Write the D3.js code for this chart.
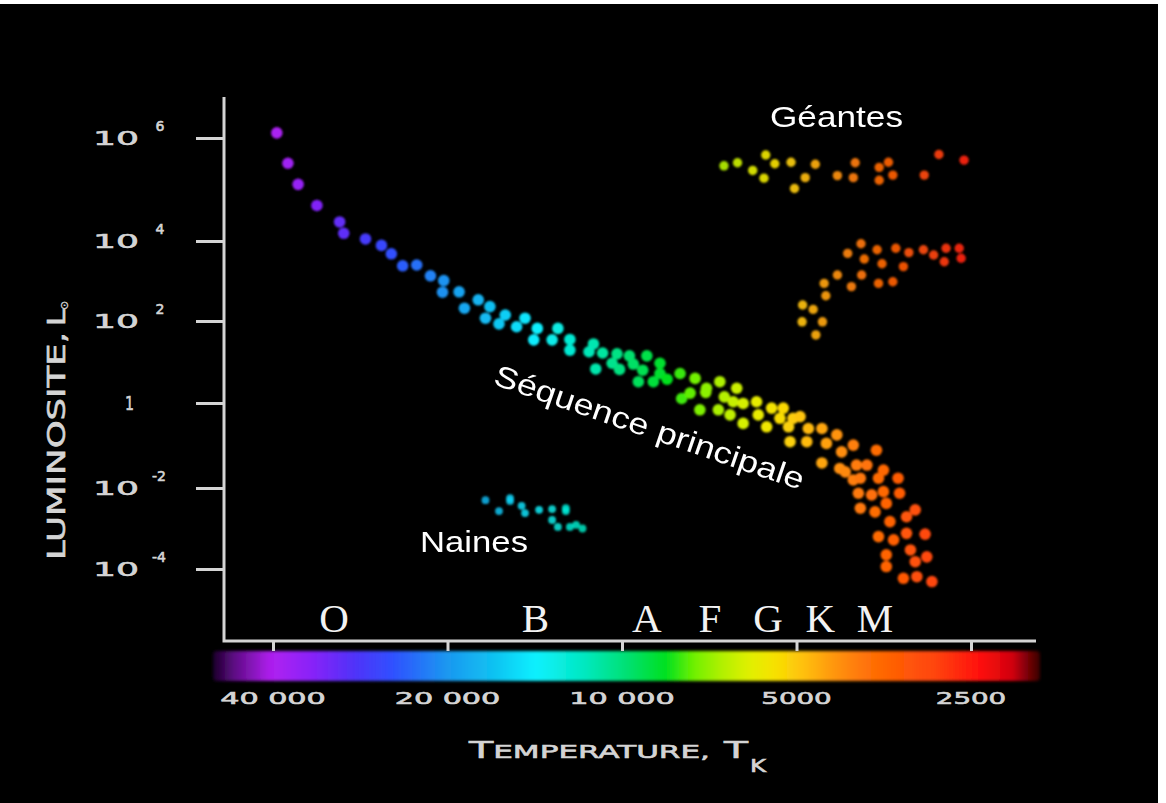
<!DOCTYPE html>
<html>
<head>
<meta charset="utf-8">
<script src="https://cdn.jsdelivr.net/npm/d3@7"></script>
<style>
  html, body { margin: 0; padding: 0; background: #ffffff; }
  svg { display: block; }
</style>
</head>
<body>
<svg id="chart" width="1166" height="803"></svg>
<script>
// ---- Hertzsprung–Russell diagram data ----
// Each star: [surface temperature (K), log10 luminosity (L☉)]
const mainSequence = [
  [39400, 6.10], [37700, 5.51], [36200, 5.10], [33600, 4.69], [30700, 4.37],
  [30200, 4.15], [27700, 4.04], [26000, 3.89], [25000, 3.68], [23900, 3.38],
  [22600, 3.40], [21400, 3.13], [20300, 3.01], [20400, 2.72], [19100, 2.73],
  [18700, 2.32], [17700, 2.53], [16900, 2.36], [17200, 2.07], [15900, 2.15],
  [16300, 1.93], [14700, 2.07], [15200, 1.86], [14000, 1.82], [14200, 1.54],
  [12900, 1.82], [13200, 1.54], [12300, 1.55], [12300, 1.29], [11200, 1.44],
  [11400, 1.25], [11100, 0.83], [10800, 1.22], [10400, 0.97], [10200, 1.20],
  [10100, 0.82], [9710, 1.15], [9560, 0.95], [9060, 1.15], [9210, 0.80],
  [9370, 0.52], [8600, 0.97], [8600, 0.72], [8830, 0.52], [8360, 0.58],
  [7940, 0.72], [7480, 0.60], [7890, 0.11], [7630, 0.24], [7150, 0.36],
  [7170, 0.26], [6780, 0.52], [6340, 0.36], [6660, 0.15], [6430, 0.03],
  [6180, -0.01], [7340, -0.16], [6820, -0.16], [6510, -0.28], [6180, -0.48],
  [5860, 0.03], [5820, -0.28], [5520, -0.12], [5270, -0.12], [5630, -0.56],
  [5340, -0.36], [5160, -0.56], [5070, -0.36], [5130, -0.91], [4930, -0.32],
  [4770, -0.60], [4520, -0.60], [4800, -0.91], [4260, -0.75], [4440, -0.95],
  [3990, -0.99], [4180, -1.15], [3640, -1.11], [4520, -1.41], [4210, -1.54],
  [3940, -1.46], [3780, -1.46], [4120, -1.62], [3540, -1.58], [3990, -1.81],
  [3880, -1.77], [3610, -1.77], [3340, -1.77], [3910, -2.13], [3710, -2.17],
  [3540, -2.09], [3320, -2.13], [3880, -2.50], [3660, -2.59], [3500, -2.38],
  [3450, -2.83], [3230, -2.71], [3120, -2.54], [3610, -3.20], [3400, -3.28],
  [3230, -3.12], [3000, -3.14], [3500, -3.65], [3180, -3.53], [3120, -3.82],
  [2980, -3.70], [3500, -3.94], [3270, -4.23], [3100, -4.19], [2920, -4.31]
];

const giants = [
  [6670, 5.46], [6320, 5.52], [5950, 5.37], [5650, 5.67], [5450, 5.50],
  [5690, 5.22], [5110, 5.53], [5040, 5.02], [4830, 5.23], [4640, 5.49],
  [4250, 5.27], [3990, 5.23], [3960, 5.52], [3600, 5.43], [3470, 5.53],
  [3600, 5.18], [3410, 5.28], [3010, 5.28], [2840, 5.68], [2570, 5.57],
  [3870, 3.93], [4080, 3.69], [3630, 3.78], [3370, 3.82], [3200, 3.71],
  [3020, 3.78], [3820, 3.55], [3560, 3.43], [2900, 3.65], [2760, 3.82],
  [2620, 3.82], [2780, 3.48], [2600, 3.57], [3270, 3.36], [4250, 3.15],
  [3860, 3.15], [3610, 2.94], [3410, 2.98], [4020, 2.86], [4480, 2.94],
  [4450, 2.63], [4880, 2.40], [4680, 2.29], [4890, 1.98], [4510, 1.98],
  [4630, 1.66]
];

const dwarfs = [
  [17200, -2.30], [16300, -2.57], [15600, -2.25], [15600, -2.32], [14900, -2.44],
  [14700, -2.62], [13900, -2.54], [13200, -2.52], [13200, -2.79], [12500, -2.50],
  [12500, -2.57], [12900, -2.96], [12300, -2.96], [12000, -2.91], [11700, -3.00]
];

// Axis ticks
const lumExponents = [6, 4, 2, 0, -2, -4];
const tempTicks = [40000, 20000, 10000, 5000, 2500];
const tempTickLabels = ["40 000", "20 000", "10 000", "5000", "2500"];

// Spectral classes and their characteristic temperatures
const spectralLetters = ["O", "B", "A", "F", "G", "K", "M"];
const spectralTemps = [31400, 14100, 9060, 7050, 5600, 4550, 3660];

// Colour of a star by temperature
const colourTemps = [50800, 46900, 40300, 34500, 29000, 24900, 20000, 16500, 14100,
  11600, 9760, 8400, 7510, 6750, 6040, 5420, 4870, 4360, 3920, 3350, 2880, 2420, 2120, 1910];
const colourValues = ["#1a0028", "#5a0a80", "#b020f0", "#8a22f8", "#5032f8", "#3050ff",
  "#1a98f0", "#10c4f2", "#10f0ff", "#00e8c0", "#00e070", "#00e020", "#70f000", "#b0f000",
  "#e0f000", "#f8e000", "#ffc010", "#ff9a10", "#ff7a08", "#ff5c04", "#ff4410", "#ff1010",
  "#d00010", "#3a0000"];

// ---- Drawing ----
const svg = d3.select("#chart");
const H = 803;

// black canvas
svg.append("rect").attr("x", 0).attr("y", 4).attr("width", 1158).attr("height", H - 4)
  .attr("fill", "#000");

const defs = svg.append("defs");
defs.append("filter").attr("id", "soft")
  .attr("x", "-50%").attr("y", "-50%").attr("width", "200%").attr("height", "200%")
  .append("feGaussianBlur").attr("stdDeviation", 0.9);
defs.append("filter").attr("id", "barBlur")
  .attr("x", "-5%").attr("y", "-50%").attr("width", "110%").attr("height", "200%")
  .append("feGaussianBlur").attr("stdDeviation", 1.6);

const x = d3.scaleLog().domain([40000, 2500]).range([273, 971]);
const y = d3.scaleLinear().domain(lumExponents).range([138, 241, 321, 403, 488, 569]);
const colour = d3.scaleLog().domain(colourTemps).range(colourValues)
  .interpolate(d3.interpolateRgb).clamp(true);

const axisColour = "#d4d4d4";
const squareFont = "'DejaVu Sans', sans-serif";

// colour bar under the temperature axis
const barX0 = 213, barX1 = 1040;
const grad = defs.append("linearGradient").attr("id", "tempGrad")
  .attr("x1", 0).attr("x2", 1).attr("y1", 0).attr("y2", 0);
d3.range(0, 121).forEach(i => {
  const px = barX0 + i * (barX1 - barX0) / 120;
  grad.append("stop").attr("offset", (i / 120)).attr("stop-color", colour(x.invert(px)));
});
svg.append("rect")
  .attr("x", barX0).attr("y", 651).attr("width", barX1 - barX0).attr("height", 30)
  .attr("rx", 4).attr("fill", "url(#tempGrad)").attr("filter", "url(#barBlur)");

// y axis ticks
const yAxis = svg.append("g").attr("transform", "translate(224,0)")
  .call(d3.axisLeft(y).tickValues(lumExponents).tickSize(28).tickSizeOuter(0).tickFormat(""));
yAxis.select(".domain").remove();
yAxis.selectAll(".tick line").attr("stroke", axisColour).attr("stroke-width", 3);

// shared style for the squared axis lettering
function axisText(sel, size) {
  return sel.attr("font-family", squareFont).attr("font-size", size)
    .attr("fill", axisColour).attr("stroke", axisColour).attr("stroke-width", 0.6)
    .attr("lengthAdjust", "spacingAndGlyphs");
}

// y tick labels: 10 with superscript exponent
lumExponents.forEach(e => {
  const yy = y(e);
  if (e === 0) {
    axisText(svg.append("text"), 20).attr("x", 134).attr("y", yy + 7)
      .attr("text-anchor", "end").attr("textLength", 9).text("1");
  } else {
    axisText(svg.append("text"), 19).attr("x", 139).attr("y", yy + 7)
      .attr("text-anchor", "end").attr("textLength", 46).text("10");
    axisText(svg.append("text"), 14).attr("x", e < 0 ? 159 : 160).attr("y", yy - 7)
      .attr("text-anchor", "middle")
      .text(e < 0 ? "-" + Math.abs(e) : String(e));
  }
});

// x axis ticks
const xAxis = svg.append("g").attr("transform", "translate(0,641)")
  .call(d3.axisBottom(x).tickValues(tempTicks).tickSize(10).tickSizeOuter(0).tickFormat(""));
xAxis.select(".domain").remove();
xAxis.selectAll(".tick line").attr("stroke", axisColour).attr("stroke-width", 3);

// axis frame
svg.append("path").attr("d", "M224,97V641H1036")
  .attr("fill", "none").attr("stroke", axisColour).attr("stroke-width", 3);

// x tick labels
axisText(svg.append("g").selectAll("text").data(tempTicks).join("text"), 16)
  .attr("x", d => x(d)).attr("y", 704)
  .attr("text-anchor", "middle")
  .attr("textLength", (d, i) => tempTickLabels[i].length * 17.6)
  .text((d, i) => tempTickLabels[i]);

// axis titles
const xt = axisText(svg.append("text"), 23).attr("x", 469).attr("y", 758)
  .attr("textLength", 241);
xt.append("tspan").attr("font-size", 23).text("T");
xt.append("tspan").attr("font-size", 18).text("EMPERATURE,");
axisText(svg.append("text"), 23).attr("x", 724).attr("y", 758)
  .attr("textLength", 24).text("T");
axisText(svg.append("text"), 17).attr("x", 750).attr("y", 772)
  .attr("textLength", 16).text("K");

const yt = svg.append("g").attr("transform", "translate(65,0) rotate(-90)");
axisText(yt.append("text"), 24).attr("x", -560).attr("y", 0)
  .attr("textLength", 228).text("LUMINOSITE,");
axisText(yt.append("text"), 24).attr("x", -326).attr("y", 0)
  .attr("textLength", 17).text("L");
axisText(yt.append("text"), 11).attr("x", -310).attr("y", 3).attr("stroke-width", 0.3)
  .text("⊙");

// spectral classes
svg.append("g").selectAll("text").data(spectralLetters).join("text")
  .attr("x", (d, i) => x(spectralTemps[i])).attr("y", 632)
  .attr("text-anchor", "middle")
  .attr("font-family", "'Liberation Serif', 'Times New Roman', serif")
  .attr("font-size", 41).attr("fill", "#f2f2f2")
  .text(d => d);

// stars
function drawStars(data, r, opacity) {
  svg.append("g").attr("filter", "url(#soft)")
    .selectAll("circle").data(data).join("circle")
    .attr("cx", d => x(d[0])).attr("cy", d => y(d[1]))
    .attr("r", r)
    .attr("fill", d => colour(d[0]))
    .attr("opacity", opacity);
}
drawStars(giants, 4.7, 0.92);
drawStars(dwarfs, 3.9, 0.85);
drawStars(mainSequence, 5.8, 1);

// region labels
const labelFont = "'Liberation Sans', Arial, sans-serif";
svg.append("text").attr("x", 770).attr("y", 127)
  .attr("font-family", labelFont).attr("font-size", 29).attr("fill", "#fff")
  .attr("textLength", 133).attr("lengthAdjust", "spacingAndGlyphs").text("Géantes");
svg.append("text").attr("x", 420).attr("y", 552)
  .attr("font-family", labelFont).attr("font-size", 29).attr("fill", "#fff")
  .attr("textLength", 108).attr("lengthAdjust", "spacingAndGlyphs").text("Naines");
svg.append("text").attr("transform", "translate(492,384) rotate(19)")
  .attr("font-family", labelFont).attr("font-size", 30).attr("fill", "#fff")
  .attr("textLength", 326).attr("lengthAdjust", "spacingAndGlyphs").text("Séquence principale");
</script>
</body>
</html>
